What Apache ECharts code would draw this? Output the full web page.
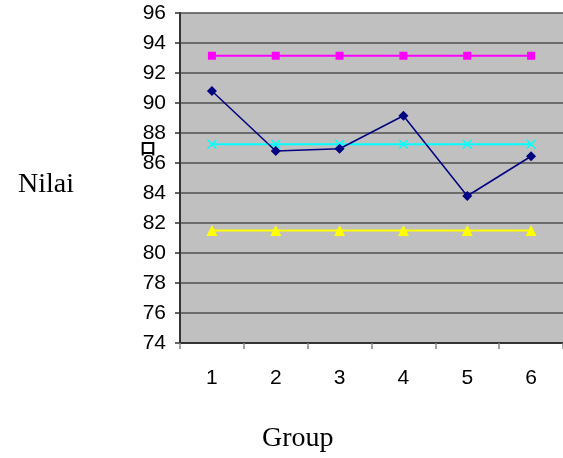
<!DOCTYPE html>
<html>
<head>
<meta charset="utf-8">
<script src="https://cdn.jsdelivr.net/npm/echarts@6/dist/echarts.min.js"></script>
<style>
  html, body { margin: 0; padding: 0; background: #ffffff; }
  #chart { width: 563px; height: 458px; }
</style>
</head>
<body>
<div id="chart"></div>
<script>
// Groups on the x axis
const groups = ['1', '2', '3', '4', '5', '6'];

// Score per group (navy diamonds)
const nilaiGroup = [90.8, 86.8, 86.95, 89.15, 83.8, 86.45];
// Reference levels drawn as flat lines
const upperLevel = [93.15, 93.15, 93.15, 93.15, 93.15, 93.15];
const meanLevel = [87.25, 87.25, 87.25, 87.25, 87.25, 87.25];
const lowerLevel = [81.5, 81.5, 81.5, 81.5, 81.5, 81.5];

// Value axis range
const yMin = 74;
const yMax = 96;
const yStep = 2;

const chart = echarts.init(document.getElementById('chart'), null, { renderer: 'canvas' });

const crossPath = 'path://M0,0L10,10M10,0L0,10';

chart.setOption({
  animation: false,
  backgroundColor: '#ffffff',
  grid: {
    show: true,
    left: 180,
    top: 13,
    width: 387,
    height: 330,
    backgroundColor: '#c0c0c0',
    borderWidth: 0
  },
  xAxis: {
    type: 'category',
    data: groups,
    boundaryGap: true,
    axisLine: { show: true, lineStyle: { color: '#333333', width: 2 } },
    axisTick: { show: true, length: 6, alignWithLabel: false, lineStyle: { color: '#888888', width: 1.5 } },
    axisLabel: {
      margin: 25,
      color: '#000000',
      fontFamily: 'Liberation Sans, Arial, sans-serif',
      fontSize: 21
    },
    splitLine: { show: false }
  },
  yAxis: {
    type: 'value',
    min: yMin,
    max: yMax,
    interval: yStep,
    axisLine: { show: true, lineStyle: { color: '#333333', width: 2 } },
    axisTick: { show: true, length: 5, inside: false, lineStyle: { color: '#333333', width: 1.5 } },
    axisLabel: {
      margin: 14,
      color: '#000000',
      fontFamily: 'Liberation Sans, Arial, sans-serif',
      fontSize: 21
    },
    splitLine: { show: true, lineStyle: { color: '#505050', width: 1.5 } }
  },
  series: [
    {
      name: 'upper',
      type: 'line',
      data: upperLevel,
      symbol: 'rect',
      symbolSize: 8,
      lineStyle: { color: '#ff00ff', width: 2 },
      itemStyle: { color: '#ff00ff' },
      z: 3
    },
    {
      name: 'mean',
      type: 'line',
      data: meanLevel,
      symbol: crossPath,
      symbolSize: 9,
      lineStyle: { color: '#00ffff', width: 2 },
      itemStyle: { color: 'rgba(0,0,0,0)', borderColor: '#00ffff', borderWidth: 1.6 },
      z: 3
    },
    {
      name: 'lower',
      type: 'line',
      data: lowerLevel,
      symbol: 'triangle',
      symbolSize: 11,
      lineStyle: { color: '#ffff00', width: 2 },
      itemStyle: { color: '#ffff00' },
      z: 3
    },
    {
      name: 'nilai',
      type: 'line',
      data: nilaiGroup,
      symbol: 'diamond',
      symbolSize: 10,
      lineStyle: { color: '#000080', width: 1.5 },
      itemStyle: { color: '#000080' },
      z: 4
    }
  ],
  graphic: [
    {
      type: 'text',
      left: 18,
      top: 171,
      style: {
        text: 'Nilai',
        fill: '#000000',
        font: '28px "Liberation Serif", "Times New Roman", serif'
      }
    },
    {
      type: 'text',
      left: 262,
      top: 425,
      style: {
        text: 'Group',
        fill: '#000000',
        font: '28px "Liberation Serif", "Times New Roman", serif'
      }
    },
    {
      type: 'text',
      left: 140,
      top: 140,
      style: {
        text: '口',
        fill: '#000000',
        font: 'bold 16px "Noto Sans CJK SC", sans-serif'
      }
    }
  ]
});
</script>
</body>
</html>
